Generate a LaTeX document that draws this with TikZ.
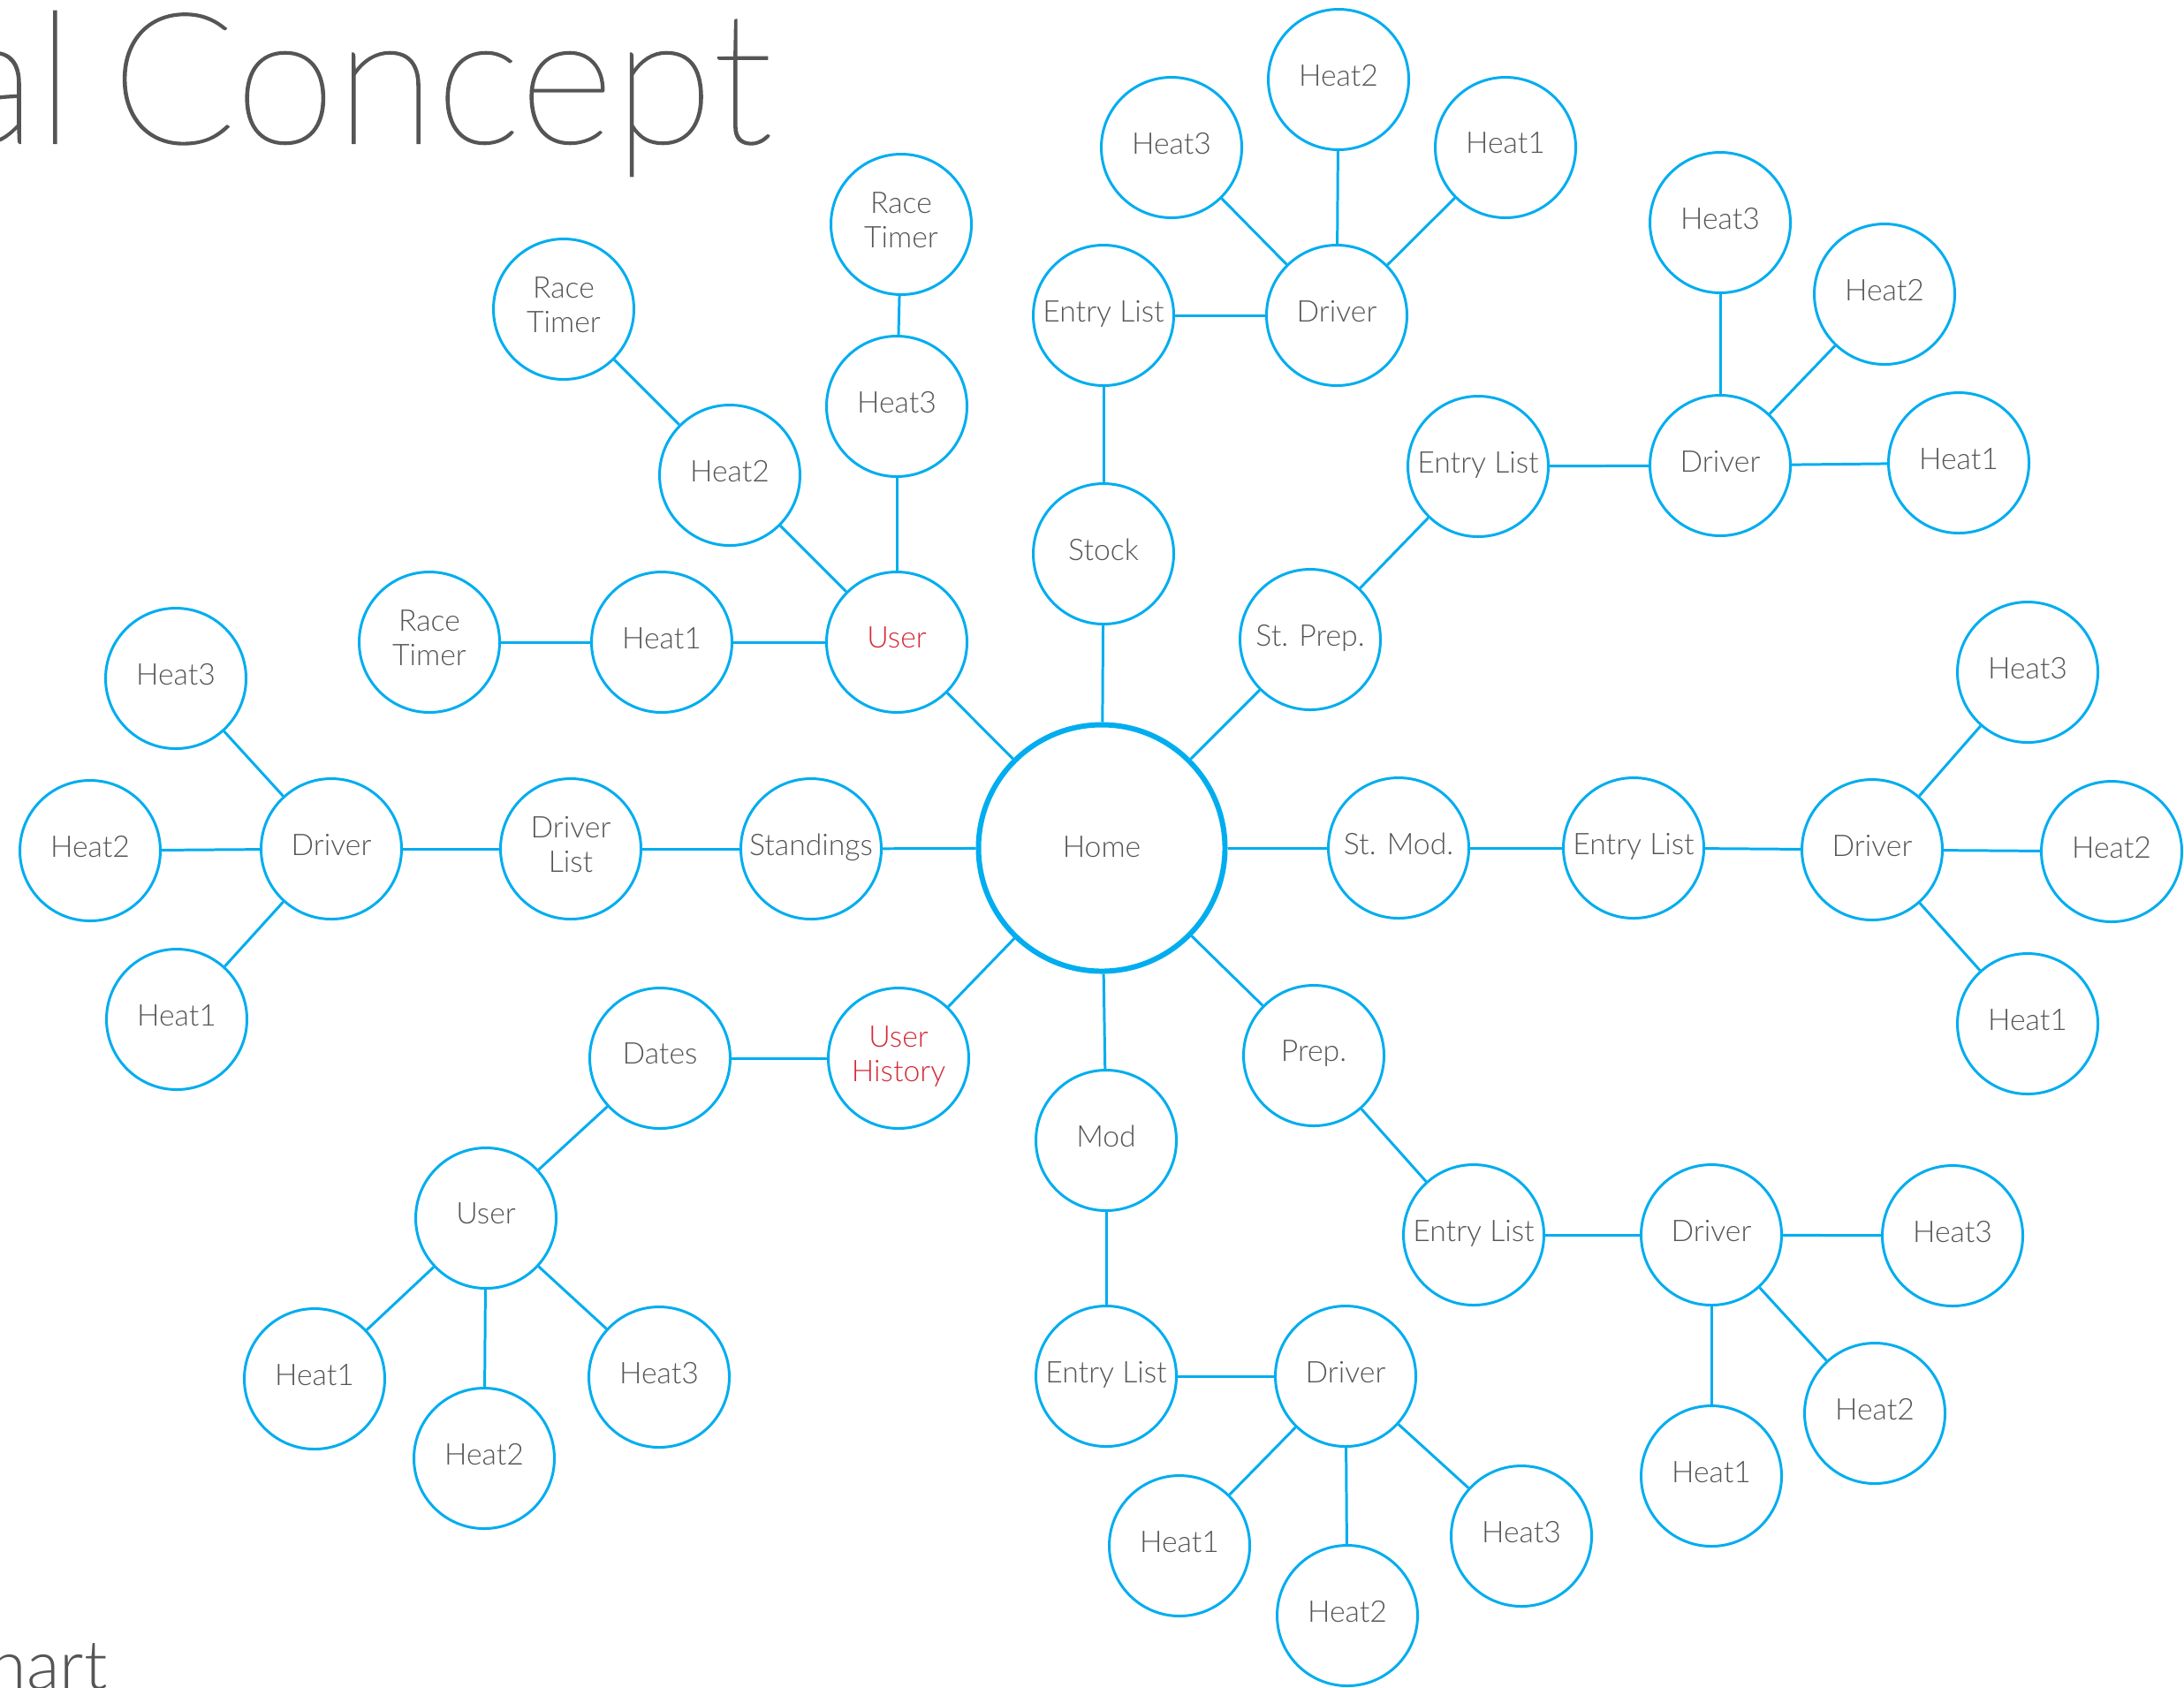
\documentclass[tikz,border=0pt]{standalone}
\usepackage{fontspec}
\setmainfont{Lato Light}
\newfontfamily\thinfont{Lato Hairline}[FakeBold=1]
\definecolor{mapblue}{HTML}{00ADEF}
\definecolor{mapred}{HTML}{D42A36}
\definecolor{mapgray}{HTML}{555555}

\begin{document}
\begin{tikzpicture}[
  every node/.style = {font=\fontsize{9.6}{11.1}\selectfont, text=mapgray},
  bubble/.style = {circle, draw=mapblue, line width=0.85pt, text depth=0.1cm,
                   minimum size=1.59cm, inner sep=0pt, align=center},
  hub/.style    = {bubble, line width=1.7pt, minimum size=2.79cm,
                   text depth=0.03cm},
  flag/.style   = {text=mapred},
  link/.style   = {draw=mapblue, line width=0.85pt},
]

\useasboundingbox (0,0) rectangle (24.72,-19.10);
\clip (0,0) rectangle (24.72,-19.10);

% ── Titles (cut by the page edge) ───────────────────────────────────────────
\node[anchor=base west, inner sep=0pt, font=\thinfont\fontsize{59}{59}\selectfont]
  (title) at (-0.58,-1.62) {al \kern-0.082em Concept};
\node[anchor=base west, inner sep=0pt, font=\fontsize{22}{22}\selectfont]
  (subtitle) at (-0.13,-19.12) {hart};

% ── Centre ──────────────────────────────────────────────────────────────────
\node[hub] (home) at (12.47,-9.60) {Home};

% ── User branch ─────────────────────────────────────────────────────────────
\node[bubble, flag] (user) at (10.15,-7.27) {User};
\node[bubble] (uH1)  at (7.49,-7.27)  {Heat1};
\node[bubble] (uRT1) at (4.86,-7.27)  {Race\\Timer};
\node[bubble] (uH2)  at (8.26,-5.38)  {Heat2};
\node[bubble] (uRT2) at (6.38,-3.50)  {Race\\Timer};
\node[bubble] (uH3)  at (10.15,-4.60) {Heat3};
\node[bubble] (uRT3) at (10.20,-2.54) {Race\\Timer};

% ── Stock branch ────────────────────────────────────────────────────────────
\node[bubble] (stock) at (12.49,-6.27) {Stock};
\node[bubble] (sEL)   at (12.49,-3.57) {Entry List};
\node[bubble] (sDrv)  at (15.13,-3.57) {Driver};
\node[bubble] (sH3)   at (13.26,-1.67) {Heat3};
\node[bubble] (sH2)   at (15.15,-0.90) {Heat2};
\node[bubble] (sH1)   at (17.04,-1.67) {Heat1};

% ── St. Prep. branch ────────────────────────────────────────────────────────
\node[bubble] (stprep) at (14.83,-7.24) {St. Prep.};
\node[bubble] (spEL)   at (16.73,-5.28) {Entry List};
\node[bubble] (spDrv)  at (19.47,-5.27) {Driver};
\node[bubble] (spH3)   at (19.47,-2.52) {Heat3};
\node[bubble] (spH2)   at (21.33,-3.33) {Heat2};
\node[bubble] (spH1)   at (22.17,-5.24) {Heat1};

% ── St. Mod. branch ─────────────────────────────────────────────────────────
\node[bubble] (stmod) at (15.83,-9.60)  {St. Mod.};
\node[bubble] (smEL)  at (18.49,-9.60)  {Entry List};
\node[bubble] (smDrv) at (21.19,-9.62)  {Driver};
\node[bubble] (smH3)  at (22.95,-7.61)  {Heat3};
\node[bubble] (smH2)  at (23.90,-9.64)  {Heat2};
\node[bubble] (smH1)  at (22.95,-11.59) {Heat1};

% ── Prep. branch ────────────────────────────────────────────────────────────
\node[bubble] (prep) at (14.87,-11.95) {Prep.};
\node[bubble] (pEL)  at (16.68,-13.98) {Entry List};
\node[bubble] (pDrv) at (19.37,-13.98) {Driver};
\node[bubble] (pH3)  at (22.10,-13.99) {Heat3};
\node[bubble] (pH2)  at (21.22,-16.00) {Heat2};
\node[bubble] (pH1)  at (19.37,-16.71) {Heat1};

% ── Mod branch ──────────────────────────────────────────────────────────────
\node[bubble] (mod)  at (12.52,-12.91) {Mod};
\node[bubble] (mEL)  at (12.52,-15.58) {Entry List};
\node[bubble] (mDrv) at (15.23,-15.58) {Driver};
\node[bubble] (mH1)  at (13.35,-17.50) {Heat1};
\node[bubble] (mH2)  at (15.25,-18.29) {Heat2};
\node[bubble] (mH3)  at (17.22,-17.39) {Heat3};

% ── User History branch ─────────────────────────────────────────────────────
\node[bubble, flag] (hist) at (10.17,-11.98) {User\\History};
\node[bubble] (hDates) at (7.47,-11.98) {Dates};
\node[bubble] (hUser)  at (5.50,-13.79) {User};
\node[bubble] (hH1)    at (3.56,-15.61) {Heat1};
\node[bubble] (hH2)    at (5.48,-16.51) {Heat2};
\node[bubble] (hH3)    at (7.46,-15.59) {Heat3};

% ── Standings branch ────────────────────────────────────────────────────────
\node[bubble] (stand) at (9.18,-9.61)  {Standings};
\node[bubble] (dList) at (6.46,-9.61)  {Driver\\List};
\node[bubble] (lDrv)  at (3.75,-9.61)  {Driver};
\node[bubble] (lH3)   at (1.99,-7.68)  {Heat3};
\node[bubble] (lH2)   at (1.02,-9.63)  {Heat2};
\node[bubble] (lH1)   at (2.00,-11.54) {Heat1};

% ── Links ───────────────────────────────────────────────────────────────────
\foreach \a/\b in {home/user, user/uH1, uH1/uRT1, user/uH2, uH2/uRT2,
                   user/uH3, uH3/uRT3,
                   home/stock, stock/sEL, sEL/sDrv, sDrv/sH1, sDrv/sH2, sDrv/sH3,
                   home/stprep, stprep/spEL, spEL/spDrv, spDrv/spH1, spDrv/spH2,
                   spDrv/spH3,
                   home/stmod, stmod/smEL, smEL/smDrv, smDrv/smH1, smDrv/smH2,
                   smDrv/smH3,
                   home/prep, prep/pEL, pEL/pDrv, pDrv/pH1, pDrv/pH2, pDrv/pH3,
                   home/mod, mod/mEL, mEL/mDrv, mDrv/mH1, mDrv/mH2, mDrv/mH3,
                   home/hist, hist/hDates, hDates/hUser, hUser/hH1, hUser/hH2,
                   hUser/hH3,
                   home/stand, stand/dList, dList/lDrv, lDrv/lH1, lDrv/lH2,
                   lDrv/lH3} {
  \draw[link] (\a) -- (\b);
}

\end{tikzpicture}
\end{document}
